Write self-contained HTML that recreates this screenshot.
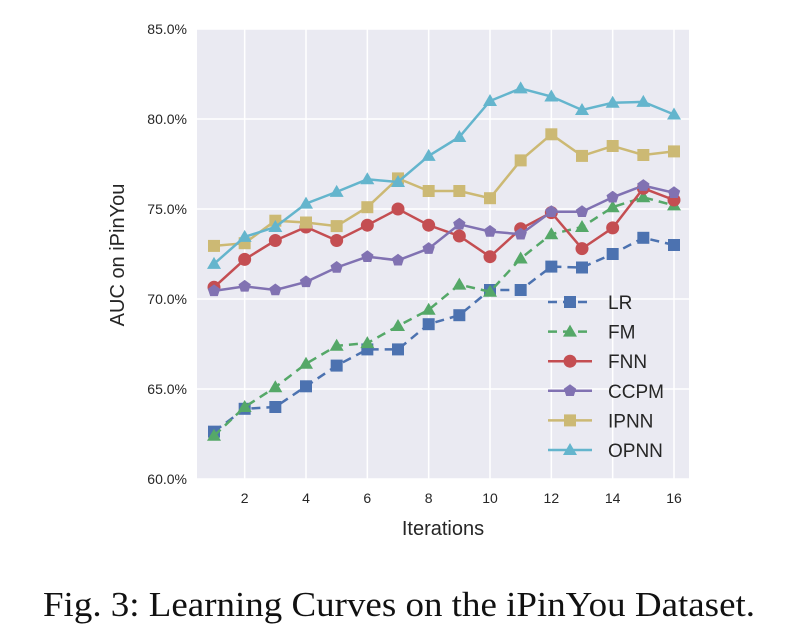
<!DOCTYPE html>
<html><head><meta charset="utf-8"><style>
body{margin:0;background:#fff;width:788px;height:636px;overflow:hidden}
svg text{font-family:"Liberation Sans",sans-serif;fill:#262626}
</style></head><body>
<svg id="c" width="788" height="636"></svg>
<script>
const iterations=[1,2,3,4,5,6,7,8,9,10,11,12,13,14,15,16];
const lrVals=[62.63,63.9,64.0,65.15,66.3,67.2,67.2,68.6,69.1,70.5,70.5,71.8,71.75,72.5,73.4,73.0];
const fmVals=[62.4,64.0,65.1,66.4,67.4,67.55,68.5,69.4,70.8,70.4,72.25,73.6,74.0,75.1,75.65,75.2];
const fnnVals=[70.65,72.2,73.25,74.0,73.25,74.1,75.0,74.1,73.5,72.35,73.9,74.8,72.8,73.95,76.15,75.5];
const ccpmVals=[70.45,70.7,70.5,70.95,71.75,72.35,72.15,72.8,74.15,73.75,73.6,74.85,74.85,75.65,76.3,75.9];
const ipnnVals=[72.95,73.1,74.35,74.25,74.05,75.1,76.7,76.0,76.0,75.6,77.7,79.15,77.95,78.5,78.0,78.2];
const opnnVals=[71.95,73.45,74.0,75.3,75.95,76.65,76.5,77.95,79.0,81.0,81.7,81.25,80.5,80.9,80.95,80.25];
const xTicks=[2,4,6,8,10,12,14,16];
const yTicks=[60,65,70,75,80,85];
const seriesNames=["LR","FM","FNN","CCPM","IPNN","OPNN"];

const NS="http://www.w3.org/2000/svg";
const svg=document.getElementById('c');
const L=197,R=689,T=29,B=479;
const xs=v=>214+(v-1)*(674-214)/15;
const ys=v=>B-(v-60)*(B-T)/25;
function mk(t,a,p){const e=document.createElementNS(NS,t);for(const k in a)e.setAttribute(k,a[k]);(p||svg).appendChild(e);return e;}
const bg=mk('rect',{x:L,y:T,width:R-L,height:B-T,fill:'#eaeaf2'});


yTicks.forEach(v=>{
 const g=mk('line',{x1:L,x2:R,y1:ys(v),y2:ys(v),stroke:'#fff','stroke-width':1.5});
 
 
 const t=mk('text',{x:187,y:ys(v)+5,'text-anchor':'end','font-size':14});
 t.textContent=v.toFixed(1)+'%';
 
 
});
xTicks.forEach(v=>{
 const g=mk('line',{x1:xs(v),x2:xs(v),y1:T,y2:B,stroke:'#fff','stroke-width':1.5});
 
 
 const t=mk('text',{x:xs(v),y:503,'text-anchor':'middle','font-size':14});
 t.textContent=v;
 
 
});
const series=[
 {vals:lrVals,color:'#4c72b0',dash:'9,6',m:'sq'},
 {vals:fmVals,color:'#55a868',dash:'9,6',m:'tri'},
 {vals:fnnVals,color:'#c44e52',dash:null,m:'circ'},
 {vals:ccpmVals,color:'#8172b2',dash:null,m:'pent'},
 {vals:ipnnVals,color:'#ccb974',dash:null,m:'sq'},
 {vals:opnnVals,color:'#64b5cd',dash:null,m:'tri'}];
function marker(g,type,x,y,c){
 let e;
 if(type==='sq')e=mk('rect',{x:x-6,y:y-6,width:12,height:12,fill:c},g);
 else if(type==='circ')e=mk('circle',{cx:x,cy:y,r:6.5,fill:c},g);
 else if(type==='tri')e=mk('polygon',{points:`${x},${y-7} ${x-7},${y+5} ${x+7},${y+5}`,fill:c},g);
 else {const p=[];for(let i=0;i<5;i++){const a=-Math.PI/2+i*2*Math.PI/5;p.push((x+6.5*Math.cos(a))+','+(y+6.5*Math.sin(a)));}e=mk('polygon',{points:p.join(' '),fill:c},g);}
 return e;
}
series.forEach((s,i)=>{
 const g=mk('g',{});
 
 
 const pl=mk('polyline',{points:s.vals.map((v,j)=>xs(iterations[j])+','+ys(v)).join(' '),fill:'none',stroke:s.color,'stroke-width':2.5},g);
 if(s.dash)pl.setAttribute('stroke-dasharray',s.dash);
 s.vals.forEach((v,j)=>{
  const m=marker(g,s.m,xs(iterations[j]),ys(v),s.color);
  
  
 });
 const ly=302+i*29.6;
 const lg=mk('g',{});
 
 
 const ll=mk('line',{x1:548,x2:592,y1:ly,y2:ly,stroke:s.color,'stroke-width':2.5},lg);
 if(s.dash)ll.setAttribute('stroke-dasharray',s.dash);
 marker(lg,s.m,570,ly,s.color);
 const t=mk('text',{x:608,y:ly+7,'font-size':19},lg);
 t.textContent=seriesNames[i];
});
const xl=mk('text',{x:443,y:535,'text-anchor':'middle','font-size':20});
xl.textContent='Iterations';


const yl=mk('text',{x:0,y:0,'text-anchor':'middle','font-size':20,transform:'translate(124,255) rotate(-90)'});
yl.textContent='AUC on iPinYou';


const cap=mk('text',{x:43,y:616,'font-size':35,textLength:712,lengthAdjust:'spacingAndGlyphs',style:'font-family:"Liberation Serif",serif;fill:#111'});
cap.textContent='Fig. 3: Learning Curves on the iPinYou Dataset.';


</script>
</body></html>
